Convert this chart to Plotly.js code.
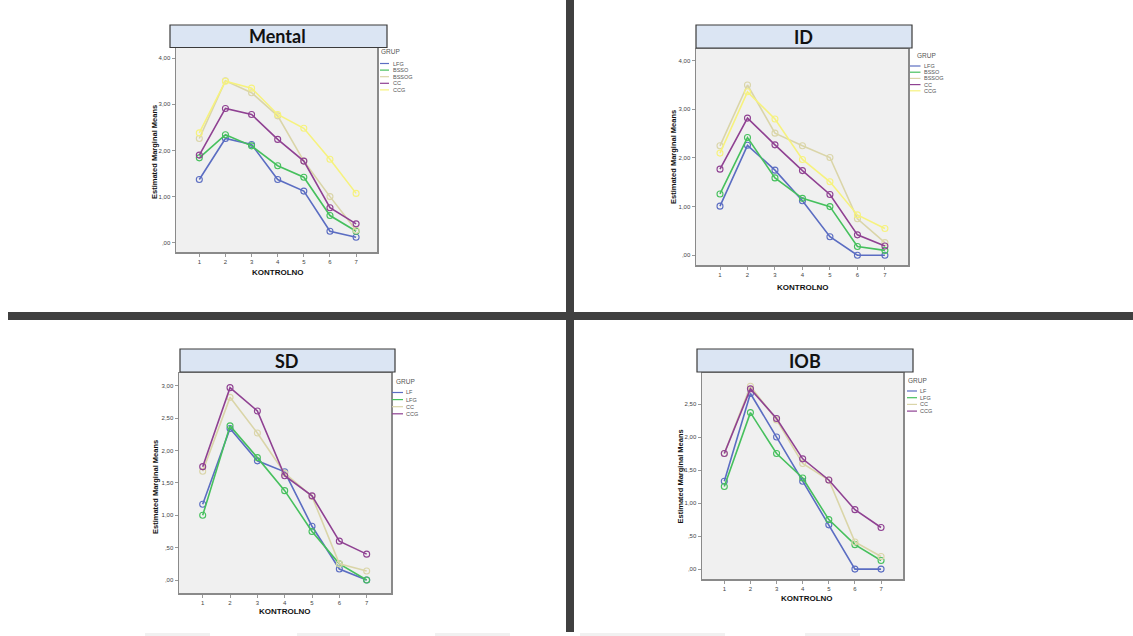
<!DOCTYPE html>
<html>
<head>
<meta charset="utf-8">
<script src="https://cdn.plot.ly/plotly-3.0.1.min.js"></script>
<style>html,body{margin:0;padding:0;background:#fff;}#chart{width:1133px;height:636px;}</style>
</head>
<body>
<div id="chart"></div>
<script>
// ---------------- data ----------------
const kontrolno = [1, 2, 3, 4, 5, 6, 7];
const xTickLabels = ["1", "2", "3", "4", "5", "6", "7"];

const panelTitles = ["Mental", "ID", "SD", "IOB"];

const groups5 = ["LFG", "BSSO", "BSSOG", "CC", "CCG"];
const groups4 = ["LF", "LFG", "CC", "CCG"];

const mentalLFG   = [1.37, 2.26, 2.13, 1.37, 1.12, 0.25, 0.12];
const mentalBSSO  = [1.84, 2.34, 2.10, 1.67, 1.42, 0.59, 0.25];
const mentalBSSOG = [2.26, 3.51, 3.25, 2.75, 1.77, 1.00, 0.27];
const mentalCC    = [1.90, 2.91, 2.78, 2.24, 1.77, 0.76, 0.41];
const mentalCCG   = [2.38, 3.50, 3.35, 2.78, 2.48, 1.81, 1.07];

const idLFG   = [1.01, 2.26, 1.75, 1.12, 0.38, 0.00, 0.00];
const idBSSO  = [1.26, 2.42, 1.59, 1.17, 1.00, 0.18, 0.10];
const idBSSOG = [2.25, 3.50, 2.51, 2.25, 2.01, 0.75, 0.26];
const idCC    = [1.77, 2.82, 2.27, 1.74, 1.25, 0.42, 0.19];
const idCCG   = [2.10, 3.36, 2.80, 1.97, 1.51, 0.83, 0.55];

const sdLF  = [1.17, 2.34, 1.84, 1.67, 0.83, 0.17, 0.00];
const sdLFG = [1.00, 2.38, 1.89, 1.38, 0.75, 0.25, 0.00];
const sdCC  = [1.68, 2.82, 2.27, 1.65, 1.29, 0.25, 0.14];
const sdCCG = [1.75, 2.97, 2.61, 1.61, 1.30, 0.60, 0.40];

const iobLF  = [1.33, 2.66, 2.00, 1.33, 0.67, 0.00, 0.00];
const iobLFG = [1.25, 2.37, 1.75, 1.38, 0.75, 0.37, 0.13];
const iobCC  = [1.75, 2.77, 2.26, 1.60, 1.35, 0.41, 0.19];
const iobCCG = [1.75, 2.73, 2.28, 1.67, 1.35, 0.90, 0.63];

const yTickVals1 = [0, 1, 2, 3, 4];
const yTickText1 = [",00", "1,00", "2,00", "3,00", "4,00"];
const yTickVals2 = [0, 0.5, 1, 1.5, 2, 2.5, 3];
const yTickText2 = [",00", ",50", "1,00", "1,50", "2,00", "2,50", "3,00"];

const xTitle = "KONTROLNO";
const yTitle = "Estimated Marginal Means";
const legendTitle = "GRUP";

// ---------------- styling ----------------
const W = 1133, H = 636;
const C = {blue: "#5b6dc2", green: "#46c05d", beige: "#dad5a8", purple: "#8f4192", yellow: "#f6f27e"};
const colors5 = [C.blue, C.green, C.beige, C.purple, C.yellow];
const colors4 = [C.blue, C.green, C.beige, C.purple];

const px = v => v / W;
const py = v => 1 - v / H;

const panels = [
  {series: [mentalLFG, mentalBSSO, mentalBSSOG, mentalCC, mentalCCG], names: groups5, colors: colors5,
   box: [176, 377, 48, 252], xr: [0.108, 7.80], yr: [-0.20, 4.22], tv: yTickVals1, tt: yTickText1,
   tbox: [170, 387, 25, 47.5], tc: [277, 36.5], xt: [278, 272], yt: [155, 152],
   leg: {tx: 379, ty: 52, lx0: 380, lx1: 389, txt: 390.5, y0: 63.5, dy: 6.6}},
  {series: [idLFG, idBSSO, idBSSOG, idCC, idCCG], names: groups5, colors: colors5,
   box: [696, 908, 49, 265], xr: [0.127, 7.84], yr: [-0.20, 4.24], tv: yTickVals1, tt: yTickText1,
   tbox: [696, 912, 25, 48], tc: [803, 37], xt: [803, 287], yt: [673, 157],
   leg: {tx: 915, ty: 56, lx0: 910, lx1: 920.5, txt: 921.5, y0: 66, dy: 6.2}},
  {series: [sdLF, sdLFG, sdCC, sdCCG], names: groups4, colors: colors4,
   box: [179, 391, 373, 593], xr: [0.133, 7.89], yr: [-0.20, 3.196], tv: yTickVals2, tt: yTickText2,
   tbox: [180, 395, 349, 372], tc: [287, 361], xt: [285, 611], yt: [155, 487],
   leg: {tx: 394, ty: 381.5, lx0: 392, lx1: 403, txt: 404, y0: 392.5, dy: 7.1}},
  {series: [iobLF, iobLFG, iobCC, iobCCG], names: groups4, colors: colors4,
   box: [702, 903, 373, 579], xr: [0.146, 7.84], yr: [-0.15, 2.97], tv: yTickVals2, tt: yTickText2,
   tbox: [697, 913, 349, 372], tc: [805, 361], xt: [807, 598], yt: [679.5, 477],
   leg: {tx: 906, ty: 380, lx0: 907, lx1: 917, txt: 917.5, y0: 391, dy: 6.7}}
];

const data = [];
const layout = {
  width: W, height: H,
  margin: {l: 0, r: 0, t: 0, b: 0},
  paper_bgcolor: "#ffffff",
  plot_bgcolor: "#f0f0f0",
  showlegend: false,
  shapes: [], annotations: []
};

const tickFont = {family: "Liberation Sans, Arial, sans-serif", size: 6, color: "#444"};
const boldFont = {family: "Liberation Sans, Arial, sans-serif", size: 8, color: "#111", weight: "bold"};

panels.forEach((p, i) => {
  const n = i + 1;
  const xa = n === 1 ? "xaxis" : "xaxis" + n;
  const ya = n === 1 ? "yaxis" : "yaxis" + n;
  const xref = n === 1 ? "x" : "x" + n;
  const yref = n === 1 ? "y" : "y" + n;
  layout[xa] = {
    domain: [px(p.box[0]), px(p.box[1])], range: p.xr, anchor: yref,
    tickvals: kontrolno, ticktext: xTickLabels, ticks: "outside", ticklen: 3, tickcolor: "#999", tickwidth: 1,
    tickfont: tickFont, showgrid: false, zeroline: false,
    showline: true, mirror: true, linecolor: "#8a8a8a", linewidth: 1.5, fixedrange: true
  };
  layout[ya] = {
    domain: [py(p.box[3]), py(p.box[2])], range: p.yr, anchor: xref,
    tickvals: p.tv, ticktext: p.tt, ticks: "outside", ticklen: 3, tickcolor: "#999", tickwidth: 1,
    tickfont: tickFont, showgrid: false, zeroline: false,
    showline: true, mirror: true, linecolor: "#8a8a8a", linewidth: 1.5, fixedrange: true
  };
  p.series.forEach((s, k) => {
    data.push({
      x: kontrolno, y: s, xaxis: xref, yaxis: yref, name: p.names[k],
      type: "scatter", mode: "lines+markers",
      line: {color: p.colors[k], width: 1.6},
      marker: {symbol: "circle-open", size: 6, color: p.colors[k], line: {width: 1.1, color: p.colors[k]}},
      hoverinfo: "skip"
    });
  });
  // title box
  layout.shapes.push({type: "rect", xref: "paper", yref: "paper",
    x0: px(p.tbox[0]), x1: px(p.tbox[1]), y0: py(p.tbox[3]), y1: py(p.tbox[2]),
    fillcolor: "#dbe5f3", line: {color: "#3a3a3a", width: 1.2}, layer: "above"});
  layout.annotations.push({xref: "paper", yref: "paper", x: px(p.tc[0]), y: py(p.tc[1]),
    text: "<b>" + panelTitles[i] + "</b>", showarrow: false, xanchor: "center", yanchor: "middle",
    font: {family: "Lato, Open Sans, sans-serif", size: 18, color: "#111"}});
  // axis titles
  layout.annotations.push({xref: "paper", yref: "paper", x: px(p.xt[0]), y: py(p.xt[1]),
    text: "<b>" + xTitle + "</b>", showarrow: false, xanchor: "center", yanchor: "middle", font: boldFont});
  layout.annotations.push({xref: "paper", yref: "paper", x: px(p.yt[0]), y: py(p.yt[1]),
    text: "<b>" + yTitle + "</b>", showarrow: false, xanchor: "center", yanchor: "middle", textangle: -90,
    font: {family: "Liberation Sans, Arial, sans-serif", size: 7.5, color: "#111"}});
  // legend
  const L = p.leg;
  layout.annotations.push({xref: "paper", yref: "paper", x: px(L.tx), y: py(L.ty),
    text: legendTitle, showarrow: false, xanchor: "left", yanchor: "middle",
    font: {family: "Liberation Sans, Arial, sans-serif", size: 6.5, color: "#555"}});
  p.names.forEach((nm, k) => {
    const yy = L.y0 + k * L.dy;
    layout.shapes.push({type: "line", xref: "paper", yref: "paper",
      x0: px(L.lx0), x1: px(L.lx1), y0: py(yy), y1: py(yy), line: {color: p.colors[k], width: 1.2}});
    layout.annotations.push({xref: "paper", yref: "paper", x: px(L.txt), y: py(yy),
      text: nm, showarrow: false, xanchor: "left", yanchor: "middle",
      font: {family: "Liberation Sans, Arial, sans-serif", size: 5.5, color: "#555"}});
  });
});

// dividers
layout.shapes.push({type: "rect", xref: "paper", yref: "paper", x0: px(8), x1: px(1133), y0: py(320), y1: py(312),
  fillcolor: "#404040", line: {width: 0}, layer: "above"});
layout.shapes.push({type: "rect", xref: "paper", yref: "paper", x0: px(566), x1: px(574), y0: py(632), y1: py(0),
  fillcolor: "#404040", line: {width: 0}, layer: "above"});
// faint bottom strip
[[145, 210], [297, 350], [435, 510], [580, 725], [805, 860]].forEach(s => {
  layout.shapes.push({type: "rect", xref: "paper", yref: "paper", x0: px(s[0]), x1: px(s[1]), y0: py(636), y1: py(633),
    fillcolor: "#f1f1f1", line: {width: 0}});
});

Plotly.newPlot("chart", data, layout, {displayModeBar: false, staticPlot: true});
</script>
</body>
</html>
